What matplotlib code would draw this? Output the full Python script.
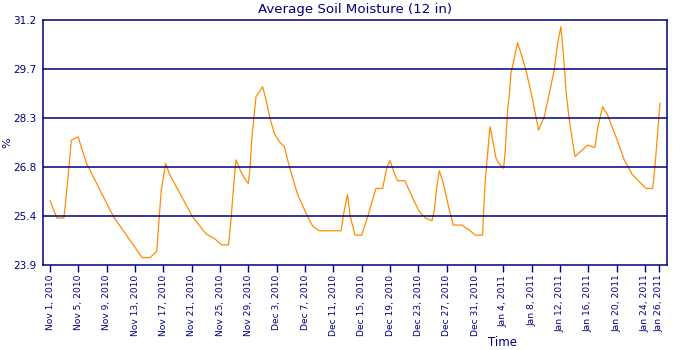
import numpy as np
import pandas as pd
import matplotlib
matplotlib.use('Agg')
import matplotlib.pyplot as plt
import matplotlib.dates as mdates

# days after Nov 1, 2010 and average soil moisture (%)
days = [0.0, 0.95, 1.95, 2.2, 2.67, 3.0, 3.95, 5.14, 8.95, 13.0, 14.1, 15.05, 15.2, 15.7,
        16.2, 16.33, 16.8, 20.1, 22.05, 23.2, 24.2, 25.2, 25.5, 26.0, 26.24, 27.05, 27.6,
        28.0, 28.27, 28.46, 28.79, 29.07, 29.54, 30.0, 30.5, 31.05, 31.66, 32.37, 33.07,
        33.78, 34.96, 36.37, 37.07, 38.0, 41.07, 41.54, 42.0, 42.39, 43.05, 44.0, 44.84,
        46.0, 46.95, 47.57, 48.0, 48.6, 49.07, 50.1, 51.2, 52.13, 53.07, 53.92, 54.25,
        54.6, 54.96, 55.52, 56.37, 56.92, 58.15, 59.2, 60.03, 61.07, 61.2, 61.44, 61.82,
        62.1, 62.34, 62.95, 63.42, 64.03, 64.27, 64.6, 64.83, 65.07, 65.54, 66.0, 66.48,
        67.18, 67.89, 68.5, 68.97, 69.77, 70.48, 71.18, 71.65, 72.12, 72.5, 72.83, 73.3,
        74.1, 75.89, 76.92, 77.3, 78.0, 78.71, 79.89, 81.07, 82.15, 84.12, 85.07, 85.4,
        85.77, 86.1]
moisture = [25.82, 25.30, 25.30, 25.79, 26.83, 27.62, 27.72, 26.93, 25.34, 24.12, 24.12,
            24.30, 24.74, 26.13, 26.78, 26.93, 26.63, 25.34, 24.82, 24.69, 24.50, 24.50,
            25.14, 26.48, 27.03, 26.63, 26.43, 26.33, 26.88, 27.62, 28.32, 28.91, 29.06,
            29.21, 28.82, 28.27, 27.82, 27.57, 27.43, 26.83, 25.99, 25.34, 25.06, 24.92,
            24.92, 25.54, 26.00, 25.34, 24.79, 24.79, 25.34, 26.18, 26.18, 26.83, 27.01,
            26.63, 26.41, 26.41, 25.89, 25.49, 25.29, 25.22, 25.54, 26.23, 26.71, 26.33,
            25.54, 25.09, 25.09, 24.94, 24.79, 24.79, 25.49, 26.43, 27.33, 28.02, 27.80,
            27.08, 26.91, 26.78, 27.33, 28.52, 28.96, 29.61, 30.06, 30.52, 30.21, 29.71,
            29.06, 28.42, 27.92, 28.32, 29.01, 29.71, 30.50, 31.00, 30.11, 29.11, 28.22,
            27.13, 27.47, 27.40, 27.97, 28.62, 28.37, 27.72, 27.03, 26.61, 26.18, 26.18,
            26.83, 27.82, 28.72]

y_ticks = [23.9, 25.36, 26.82, 28.28, 29.74, 31.2]
y_labels = ['23.9', '25.4', '26.8', '28.3', '29.7', '31.2']
tick_days = list(range(0, 85, 4)) + [86]

navy = '#000080'
start = pd.Timestamp('2010-11-01')
t = start + pd.to_timedelta(days, unit='D')
tick_dates = start + pd.to_timedelta(tick_days, unit='D')

fig = plt.figure(figsize=(6.8, 3.5), dpi=100)
ax = fig.add_axes([43 / 680, 85 / 350, 624 / 680, 245 / 350])

ax.plot(t, moisture, color='#ff8c00', lw=0.9)

ax.set_xlim(start - pd.Timedelta(days=1), start + pd.Timedelta(days=87.1))
ax.set_ylim(23.9, 31.2)
ax.set_yticks(y_ticks)
ax.set_yticklabels(y_labels)
for yv in y_ticks[1:-1]:
    ax.axhline(yv, color=navy, lw=1.1)

ax.set_xticks(tick_dates)
ax.set_xticklabels([d.strftime('%b ') + str(d.day) + d.strftime(', %Y') for d in tick_dates],
                   rotation=90)
ax.tick_params(axis='x', colors=navy, labelsize=6.6, length=5, width=1, direction='out', pad=2)
ax.tick_params(axis='y', colors=navy, labelsize=7.5, length=0, pad=5)
for s in ax.spines.values():
    s.set_color(navy)
    s.set_linewidth(1.1)

ax.set_title('Average Soil Moisture (12 in)', color=navy, fontsize=9.6, pad=5)
fig.text(7 / 680, 1 - 143 / 350, '%', color=navy, fontsize=8, rotation=90,
         ha='center', va='center')
fig.text(502 / 680, 1 - 343 / 350, 'Time', color=navy, fontsize=8.5,
         ha='center', va='center')

fig.savefig('out.png', dpi=100)
